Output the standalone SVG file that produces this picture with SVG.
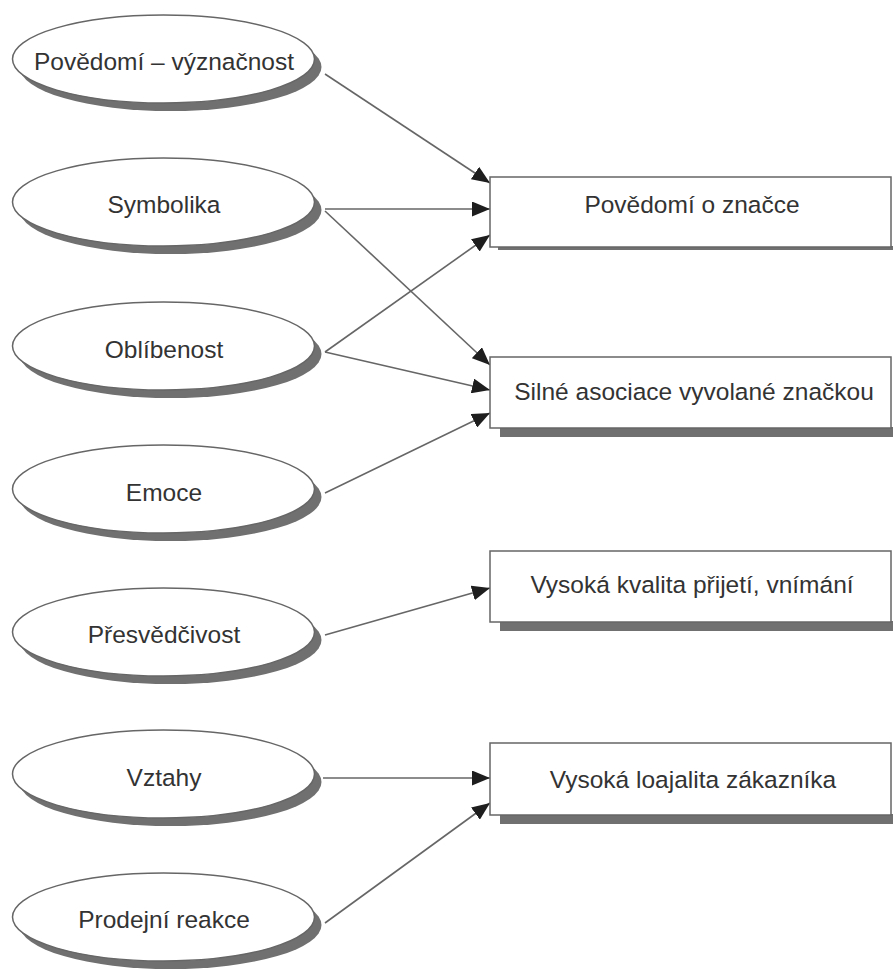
<svg xmlns="http://www.w3.org/2000/svg" width="893" height="969" viewBox="0 0 893 969">
  <style>
    .sh { fill: #707070; }
    .el { fill: #ffffff; stroke: #666666; stroke-width: 1.5; }
    .bx { fill: #ffffff; stroke: #666666; stroke-width: 1.5; }
    .t { font-family: "Liberation Sans", Arial, sans-serif; font-size: 24.5px; fill: #333333; text-anchor: middle; }
    .c { stroke: #666666; stroke-width: 1.6; fill: none; marker-end: url(#arr); }
  </style>
  <defs>
    <marker id="arr" markerUnits="userSpaceOnUse" markerWidth="18" markerHeight="15" refX="18" refY="7.5" orient="auto">
      <path d="M0,0 L18,7.5 L0,15 z" fill="#1e1e1e"/>
    </marker>
  </defs>
  <rect width="893" height="969" fill="#ffffff"/>

  <g id="connectors">
    <line class="c" x1="325" y1="74" x2="490" y2="183"/>
    <line class="c" x1="325" y1="209" x2="490" y2="209"/>
    <line class="c" x1="325" y1="211" x2="490" y2="365"/>
    <line class="c" x1="325" y1="352" x2="490" y2="235"/>
    <line class="c" x1="325" y1="352" x2="490" y2="390"/>
    <line class="c" x1="325" y1="493" x2="490" y2="413"/>
    <line class="c" x1="325" y1="635" x2="490" y2="588"/>
    <line class="c" x1="323" y1="778" x2="490" y2="778"/>
    <line class="c" x1="325" y1="923" x2="490" y2="803"/>
  </g>

  <g id="n-povedomi-vyznacnost">
    <ellipse class="sh" cx="170.5" cy="67" rx="151" ry="44"/>
    <ellipse class="el" cx="163.5" cy="59" rx="151" ry="44"/>
    <text class="t" x="164" y="70">Povědomí – význačnost</text>
  </g>
  <g id="n-symbolika">
    <ellipse class="sh" cx="170.5" cy="210" rx="151" ry="44"/>
    <ellipse class="el" cx="163.5" cy="202" rx="151" ry="44"/>
    <text class="t" x="164" y="213">Symbolika</text>
  </g>
  <g id="n-oblibenost">
    <ellipse class="sh" cx="170.5" cy="354" rx="151" ry="44"/>
    <ellipse class="el" cx="163.5" cy="346" rx="151" ry="44"/>
    <text class="t" x="164" y="358">Oblíbenost</text>
  </g>
  <g id="n-emoce">
    <ellipse class="sh" cx="170.5" cy="497" rx="151" ry="44"/>
    <ellipse class="el" cx="163.5" cy="489" rx="151" ry="44"/>
    <text class="t" x="164" y="501">Emoce</text>
  </g>
  <g id="n-presvedcivost">
    <ellipse class="sh" cx="170.5" cy="640" rx="151" ry="44"/>
    <ellipse class="el" cx="163.5" cy="632" rx="151" ry="44"/>
    <text class="t" x="164" y="643">Přesvědčivost</text>
  </g>
  <g id="n-vztahy">
    <ellipse class="sh" cx="170.5" cy="782" rx="151" ry="44"/>
    <ellipse class="el" cx="163.5" cy="774" rx="151" ry="44"/>
    <text class="t" x="164" y="786">Vztahy</text>
  </g>
  <g id="n-prodejni-reakce">
    <ellipse class="sh" cx="170.5" cy="925" rx="151" ry="44"/>
    <ellipse class="el" cx="163.5" cy="917" rx="151" ry="44"/>
    <text class="t" x="164" y="928">Prodejní reakce</text>
  </g>

  <g id="b-povedomi-o-znacce">
    <rect class="sh" x="498" y="246" width="395" height="4"/>
    <rect class="bx" x="490" y="177" width="401" height="70"/>
    <text class="t" x="692" y="213">Povědomí o značce</text>
  </g>
  <g id="b-silne-asociace">
    <rect class="sh" x="500" y="427" width="393" height="10"/>
    <rect class="bx" x="490" y="357" width="401" height="71"/>
    <text class="t" x="694" y="400">Silné asociace vyvolané značkou</text>
  </g>
  <g id="b-vysoka-kvalita">
    <rect class="sh" x="500" y="621" width="393" height="10"/>
    <rect class="bx" x="490" y="551" width="401" height="71"/>
    <text class="t" x="692" y="593">Vysoká kvalita přijetí, vnímání</text>
  </g>
  <g id="b-vysoka-loajalita">
    <rect class="sh" x="500" y="814" width="393" height="10"/>
    <rect class="bx" x="490" y="743" width="401" height="72"/>
    <text class="t" x="693" y="788">Vysoká loajalita zákazníka</text>
  </g>
</svg>
